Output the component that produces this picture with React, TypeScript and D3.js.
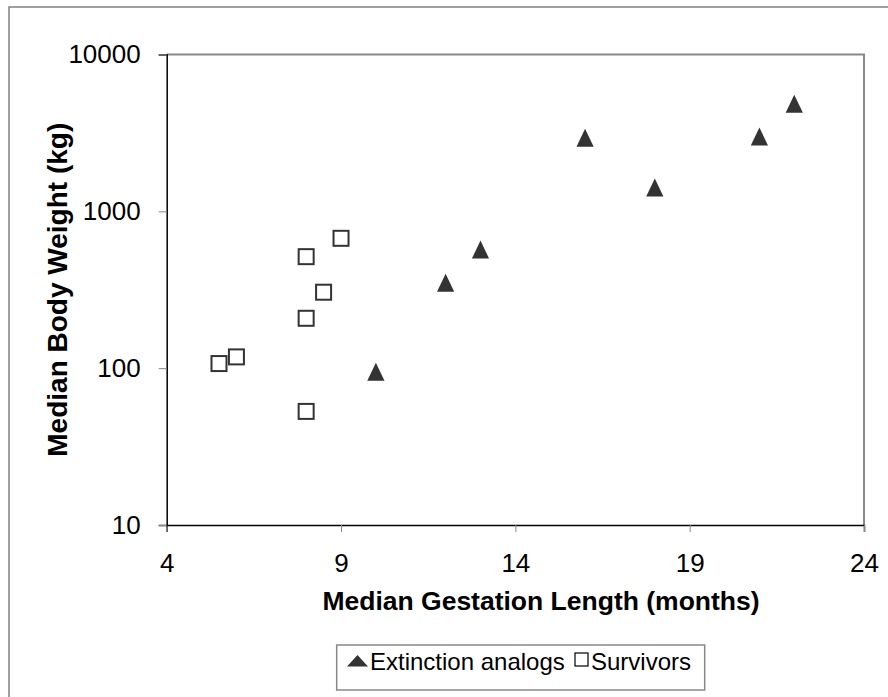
import { useEffect, useRef } from 'react';
import * as d3 from 'd3';

// Extinction analogs (triangles)
const extinctGestation = [10, 12, 13, 16, 18, 21, 22];
const extinctWeight = [95, 350, 570, 2950, 1420, 3000, 4850];

// Survivors (squares)
const survivorGestation = [5.5, 6, 8, 8, 8, 8.5, 9];
const survivorWeight = [107, 118, 53, 208, 514, 305, 673];

const xTicks = [4, 9, 14, 19, 24];
const yTicks = [10, 100, 1000, 10000];

const FONT = '"Liberation Sans", Arial, sans-serif';

export default function App() {
  const svgRef = useRef<SVGSVGElement | null>(null);

  useEffect(() => {
    if (!svgRef.current) return;
    const width = 888;
    const height = 697;
    const left = 166.7;
    const right = 864;
    const top = 54.5;
    const bottom = 525;

    const svg = d3.select(svgRef.current);
    svg.selectAll('*').remove();
    svg.attr('width', width).attr('height', height);

    // chart area border (runs off the right/bottom edge)
    svg
      .append('rect')
      .attr('x', 9)
      .attr('y', 7)
      .attr('width', 900)
      .attr('height', 720)
      .attr('fill', '#fff')
      .attr('stroke', '#808080')
      .attr('stroke-width', 1.5);

    const x = d3.scaleLinear().domain([4, 24]).range([left, right]);
    const y = d3.scaleLog().domain([10, 10000]).range([bottom, top]);

    // plot area top/right border
    svg
      .append('path')
      .attr('d', `M${left},${top}H${right}V${bottom}`)
      .attr('fill', 'none')
      .attr('stroke', '#888')
      .attr('stroke-width', 2);

    // x axis
    const xAxis = svg
      .append('g')
      .attr('transform', `translate(0,${bottom})`)
      .call(
        d3
          .axisBottom(x)
          .tickValues(xTicks)
          .tickSize(7)
          .tickPadding(22)
          .tickFormat((d) => String(d))
      );
    xAxis.select('.domain').attr('stroke', '#000').attr('stroke-width', 1.5);
    xAxis.selectAll('.tick line').attr('stroke', '#888').attr('stroke-width', 1);
    xAxis
      .selectAll('.tick text')
      .attr('font-family', FONT)
      .attr('font-size', 26)
      .attr('fill', '#000');

    // y axis
    const yAxis = svg
      .append('g')
      .attr('transform', `translate(${left},0)`)
      .call(
        d3
          .axisLeft(y)
          .tickValues(yTicks)
          .tickSize(8)
          .tickPadding(18)
          .tickFormat((d) => String(d))
      );
    yAxis.select('.domain').attr('stroke', '#000').attr('stroke-width', 1.5);
    yAxis.selectAll('.tick line').attr('stroke', '#888').attr('stroke-width', 1);
    yAxis
      .selectAll('.tick text')
      .attr('font-family', FONT)
      .attr('font-size', 26)
      .attr('fill', '#000');

    // axis titles
    svg
      .append('text')
      .attr('x', 541)
      .attr('y', 610)
      .attr('text-anchor', 'middle')
      .attr('font-family', FONT)
      .attr('font-size', 26.5)
      .attr('font-weight', 'bold')
      .text('Median Gestation Length (months)');

    svg
      .append('text')
      .attr('transform', `translate(67,${(top + bottom) / 2}) rotate(-90)`)
      .attr('text-anchor', 'middle')
      .attr('font-family', FONT)
      .attr('font-size', 28)
      .attr('font-weight', 'bold')
      .text('Median Body Weight (kg)');

    const tri = 'M0,-9L8.6,9L-8.6,9Z';

    // survivors
    svg
      .append('g')
      .selectAll('rect')
      .data(survivorGestation)
      .join('rect')
      .attr('x', (d) => x(d) - 7.5)
      .attr('y', (_, i) => y(survivorWeight[i]) - 7.5)
      .attr('width', 15)
      .attr('height', 15)
      .attr('fill', '#fff')
      .attr('stroke', '#333')
      .attr('stroke-width', 2);

    // extinction analogs
    svg
      .append('g')
      .selectAll('path')
      .data(extinctGestation)
      .join('path')
      .attr('d', tri)
      .attr('transform', (d, i) => `translate(${x(d)},${y(extinctWeight[i])})`)
      .attr('fill', '#333');

    // legend
    const lg = svg.append('g');
    lg.append('rect')
      .attr('x', 336.7)
      .attr('y', 645)
      .attr('width', 368)
      .attr('height', 45)
      .attr('fill', '#fff')
      .attr('stroke', '#888')
      .attr('stroke-width', 1.5);
    lg.append('path')
      .attr('d', 'M357.5,655L368,666.5L347,666.5Z')
      .attr('fill', '#333');
    lg.append('text')
      .attr('x', 370)
      .attr('y', 670)
      .attr('font-family', FONT)
      .attr('font-size', 24)
      .text('Extinction analogs');
    lg.append('rect')
      .attr('x', 575)
      .attr('y', 653)
      .attr('width', 13)
      .attr('height', 13)
      .attr('fill', '#fff')
      .attr('stroke', '#000')
      .attr('stroke-width', 1.2);
    lg.append('text')
      .attr('x', 591)
      .attr('y', 670)
      .attr('font-family', FONT)
      .attr('font-size', 24)
      .text('Survivors');
  }, []);

  return (
    <svg
      ref={svgRef}
      style={{ position: 'absolute', left: 0, top: 0, display: 'block' }}
    />
  );
}
